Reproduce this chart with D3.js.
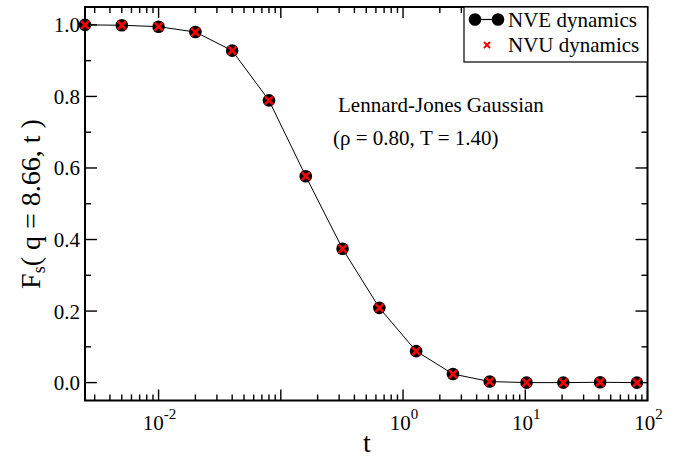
<!DOCTYPE html>
<html><head><meta charset="utf-8">
<script src="https://cdn.jsdelivr.net/npm/d3@7"></script>
<style>body{margin:0;background:#fff}svg{display:block}</style>
</head><body>
<script>
const times = [0.0025,0.005,0.01,0.02,0.04,0.08,0.16,0.32,0.64,1.28,2.56,5.12,10.24,20.48,40.96,81.92];
const nveValues = [1.0,0.999,0.995,0.98,0.928,0.789,0.577,0.374,0.209,0.088,0.024,0.003,0.0,0.0,0.001,0.0];
const nvuValues = [1.0,0.999,0.995,0.98,0.928,0.789,0.577,0.374,0.209,0.088,0.024,0.003,0.0,0.0,0.001,0.0];
const yTicks = [0.0,0.2,0.4,0.6,0.8,1.0];
const yMinorTicks = [0.1,0.3,0.5,0.7,0.9];
const xDecades = [-2,0,1,2];
const legendLabels = ["NVE dynamics","NVU dynamics"];
const annotation = ["Lennard-Jones Gaussian","(ρ = 0.80, T = 1.40)"];

const FONT = "'Liberation Serif', 'Times New Roman', serif";
const W=684,H=459, L=85, R=647.5, T=7, B=400.5;
const svg=d3.select("body").append("svg").attr("width",W).attr("height",H).attr("font-family",FONT);
const x=d3.scaleLog().domain([0.0025,100]).range([L,R]);
const y=d3.scaleLinear().domain([-0.05,1.05]).range([B,T]);

// ticks (inward, mirrored on all sides)
const g=svg.append("g").attr("stroke","#000").attr("stroke-width",1.4);
const xMajor=[-2,-1,0,1,2].map(e=>Math.pow(10,e));
const xMinor=[];
for(let e=-3;e<2;e++) for(let k=2;k<=9;k++){const v=k*Math.pow(10,e); if(v>=0.0025&&v<=100) xMinor.push(v);}
xMajor.forEach(v=>{const px=x(v);
  g.append("line").attr("x1",px).attr("x2",px).attr("y1",B).attr("y2",B-11);
  g.append("line").attr("x1",px).attr("x2",px).attr("y1",T).attr("y2",T+11);});
xMinor.forEach(v=>{const px=x(v);
  g.append("line").attr("x1",px).attr("x2",px).attr("y1",B).attr("y2",B-6);
  g.append("line").attr("x1",px).attr("x2",px).attr("y1",T).attr("y2",T+6);});
yTicks.forEach(v=>{const py=y(v);
  g.append("line").attr("x1",L).attr("x2",L+12).attr("y1",py).attr("y2",py);
  g.append("line").attr("x1",R).attr("x2",R-12).attr("y1",py).attr("y2",py);});
yMinorTicks.forEach(v=>{const py=y(v);
  g.append("line").attr("x1",L).attr("x2",L+6).attr("y1",py).attr("y2",py);
  g.append("line").attr("x1",R).attr("x2",R-6).attr("y1",py).attr("y2",py);});

// frame
svg.append("rect").attr("x",L).attr("y",T).attr("width",R-L).attr("height",B-T)
  .attr("fill","none").attr("stroke","#000").attr("stroke-width",2);

// tick labels
yTicks.forEach(v=>{
  svg.append("text").attr("x",L-5).attr("y",y(v)+7.5).attr("text-anchor","end")
    .attr("font-size",21).text(v.toFixed(1));
});
xDecades.forEach(e=>{
  const t=svg.append("text").attr("x",x(Math.pow(10,e))+1).attr("y",B+29.5).attr("text-anchor","middle").attr("font-size",21);
  t.append("tspan").text("10");
  t.append("tspan").attr("font-size",15).attr("dy",-11).text(e);
});

// axis titles
svg.append("text").attr("x",367).attr("y",452).attr("text-anchor","middle").attr("font-size",28).text("t");
const yl=svg.append("text").attr("transform","translate(40,204) rotate(-90)").attr("text-anchor","middle").attr("font-size",28);
yl.append("tspan").text("F");
yl.append("tspan").attr("font-size",18).attr("dy",5).text("s");
yl.append("tspan").attr("dy",-5).text("( q = 8.66, t )");

// data
const pts=times.map((t,i)=>[t,nveValues[i]]);
svg.append("path").datum(pts).attr("fill","none").attr("stroke","#000").attr("stroke-width",1)
  .attr("d",d3.line().x(d=>x(d[0])).y(d=>y(d[1])));
svg.append("g").selectAll("circle").data(pts).join("circle")
  .attr("cx",d=>x(d[0])).attr("cy",d=>y(d[1])).attr("r",6.3).attr("fill","#000");
const s=4;
svg.append("g").attr("stroke","#ff0000").attr("stroke-width",2.5).selectAll("path")
  .data(times.map((t,i)=>[t,nvuValues[i]])).join("path")
  .attr("d",d=>{const cx=x(d[0]),cy=y(d[1]);return `M${cx-s},${cy-s}L${cx+s},${cy+s}M${cx-s},${cy+s}L${cx+s},${cy-s}`;});

// annotation
annotation.forEach((a,i)=>svg.append("text").attr("x",i?333:338).attr("y",112+i*33).attr("font-size",21).text(a));

// legend
svg.append("rect").attr("x",464).attr("y",T).attr("width",R-464).attr("height",55)
  .attr("fill","#fff").attr("stroke","#000").attr("stroke-width",1.2);
const lg=svg.append("g");
lg.append("line").attr("x1",475).attr("x2",498).attr("y1",19.5).attr("y2",19.5).attr("stroke","#000").attr("stroke-width",1.2);
lg.append("circle").attr("cx",475).attr("cy",19.5).attr("r",6.3);
lg.append("circle").attr("cx",498).attr("cy",19.5).attr("r",6.3);
const ls=3;
lg.append("path").attr("d",`M${487-ls},${45-ls}L${487+ls},${45+ls}M${487-ls},${45+ls}L${487+ls},${45-ls}`).attr("stroke","#ff0000").attr("stroke-width",2);
legendLabels.forEach((l,i)=>lg.append("text").attr("x",508).attr("y",26.5+i*25).attr("font-size",21).text(l));
</script>
</body></html>
